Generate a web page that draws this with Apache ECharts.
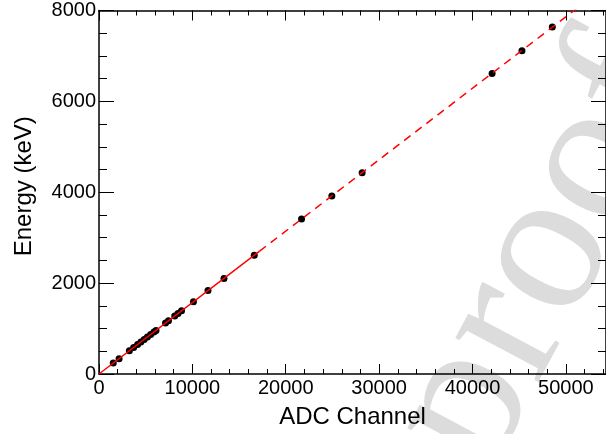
<!DOCTYPE html>
<html>
<head>
<meta charset="utf-8">
<script src="https://cdn.jsdelivr.net/npm/echarts@6/dist/echarts.min.js"></script>
<style>
html,body{margin:0;padding:0;background:#fff;}
#chart{width:606px;height:434px;}
</style>
</head>
<body>
<div id="chart"></div>
<script>
// Calibration points (ADC channel, energy in keV)
const channels = [1527, 2150, 3250, 3709, 4135, 4485, 4835, 5185, 5535, 5885, 6107, 7125, 7443, 8111, 8461, 8842, 10115, 11673, 13384, 16628, 21692, 24936, 28181, 42100, 45300, 48550];
const energies = [240, 338, 511, 583, 650, 705, 760, 815, 870, 925, 960, 1120, 1170, 1275, 1330, 1390, 1590, 1835, 2104, 2614, 3410, 3920, 4430, 6615, 7115, 7635];
// Fit line: solid part (fitted range) and dashed extrapolation
const fitSolidX = [0, 17200];
const fitSolidY = [0, 2704];
const fitDashX = [17200, 54300];
const fitDashY = [2704, 8536];
// Axis ticks
const xMajorTicks = [0, 10000, 20000, 30000, 40000, 50000];
const xMinorTicks = [2000, 4000, 6000, 8000, 12000, 14000, 16000, 18000, 22000, 24000, 26000, 28000, 32000, 34000, 36000, 38000, 42000, 44000, 46000, 48000, 52000, 54000];
const yMajorTicks = [0, 2000, 4000, 6000, 8000];
const xTitle = 'ADC Channel';
const yTitle = 'Energy (keV)';
const watermark = 'proof';

const chart = echarts.init(document.getElementById('chart'), null, {renderer: 'canvas'});
const font = 'Liberation Sans';
const X_MIN = 0, X_MAX = 54300, Y_MIN = 0, Y_MAX = 8000;
const plain = v => String(v);

function xAx(pos, custom, len, showLine, labels, name) {
  return {
    type: 'value', position: pos, min: X_MIN, max: X_MAX, gridIndex: 0,
    name: name || '', nameLocation: 'middle', nameGap: 31,
    nameTextStyle: {fontFamily: font, fontSize: 24, color: '#000'},
    axisLine: {show: showLine, onZero: false, lineStyle: {color: '#000', width: 1.5}},
    axisTick: {show: true, inside: true, length: len, customValues: custom, lineStyle: {color: '#000', width: 1}},
    axisLabel: {show: labels, customValues: labels ? custom : undefined, formatter: plain, fontFamily: font, fontSize: 20, color: '#000', margin: 4},
    splitLine: {show: false}
  };
}

const option = {
  backgroundColor: '#fff',
  animation: false,
  grid: {left: 99, right: 0, top: 10.5, bottom: 59, containLabel: false},
  xAxis: [
    xAx('bottom', xMajorTicks, 10, true, true, xTitle),
    xAx('bottom', xMinorTicks, 5, false, false),
    xAx('top', xMajorTicks, 10, true, false),
    xAx('top', xMinorTicks, 5, false, false)
  ],
  yAxis: [
    {
      type: 'value', position: 'left', min: Y_MIN, max: Y_MAX, interval: 2000,
      name: yTitle, nameLocation: 'middle', nameGap: 63, nameRotate: 90,
      nameTextStyle: {fontFamily: font, fontSize: 24, color: '#000', padding: [0, 0, 0, 12]},
      axisLine: {show: true, onZero: false, lineStyle: {color: '#000', width: 1.5}},
      axisTick: {show: true, inside: true, length: 15, lineStyle: {color: '#000', width: 1}},
      minorTick: {show: true, splitNumber: 4, length: 8, lineStyle: {color: '#000', width: 1}},
      axisLabel: {formatter: plain, customValues: yMajorTicks, fontFamily: font, fontSize: 20, color: '#000', margin: 3},
      splitLine: {show: false}, minorSplitLine: {show: false}
    },
    {
      type: 'value', position: 'right', min: Y_MIN, max: Y_MAX, interval: 2000,
      axisLine: {show: true, onZero: false, lineStyle: {color: '#000', width: 1.5}},
      axisTick: {show: true, inside: true, length: 15, lineStyle: {color: '#000', width: 1}},
      minorTick: {show: true, splitNumber: 4, length: 8, lineStyle: {color: '#000', width: 1}},
      axisLabel: {show: false},
      splitLine: {show: false}, minorSplitLine: {show: false}
    }
  ],
  graphic: [{
    type: 'text', z: -100, x: 545, y: 255, rotation: 62 * Math.PI / 180,
    style: {text: watermark, fontFamily: 'Liberation Serif', fontSize: 205, fill: '#dcdcdc', align: 'center', verticalAlign: 'middle'}
  }],
  series: [
    {
      type: 'scatter', xAxisIndex: 0, yAxisIndex: 0, z: 2,
      data: channels.map((c, i) => [c, energies[i]]),
      symbol: 'circle', symbolSize: 7,
      itemStyle: {color: '#000', opacity: 1}
    },
    {
      type: 'line', xAxisIndex: 0, yAxisIndex: 0, z: 3,
      data: fitSolidX.map((c, i) => [c, fitSolidY[i]]),
      showSymbol: false, symbol: 'none',
      lineStyle: {color: '#ff0000', width: 1.5}
    },
    {
      type: 'line', xAxisIndex: 0, yAxisIndex: 0, z: 3, clip: true,
      data: fitDashX.map((c, i) => [c, fitDashY[i]]),
      showSymbol: false, symbol: 'none',
      lineStyle: {color: '#ff0000', width: 1.5, type: [8, 6]}
    }
  ]
};
chart.setOption(option);
</script>
</body>
</html>
